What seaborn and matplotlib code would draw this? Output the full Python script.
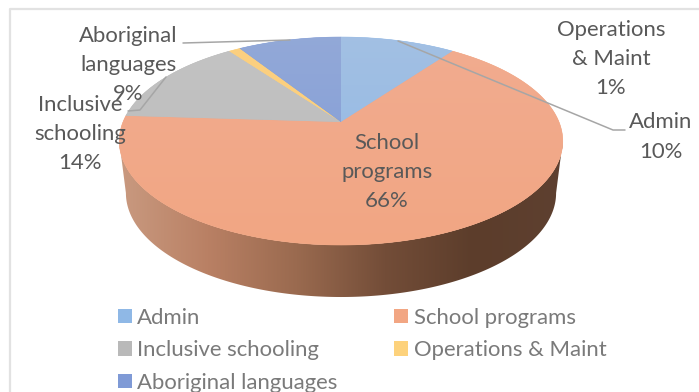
import numpy as np
import matplotlib
matplotlib.use("Agg")
import matplotlib.pyplot as plt
from matplotlib.colors import LinearSegmentedColormap
from matplotlib.patches import Polygon, Patch
import seaborn as sns

categories = ["Admin", "School programs", "Inclusive schooling", "Operations & Maint", "Aboriginal languages"]
shares = [10, 66, 14, 1, 9]
top_colors = ["#a3c0e3", "#f1ac90", "#c4c4c4", "#fbcf80", "#93a9d8"]
bottom_colors = ["#8fb8e6", "#f2a683", "#b9b9b9", "#fdd27c", "#7f9ad6"]
data_labels = ["Admin\n10%", "School\nprograms\n66%", "Inclusive\nschooling\n14%",
               "Operations\n& Maint\n1%", "Aboriginal\nlanguages\n9%"]
label_xy = [(661, 137), (387, 172), (80, 134), (611, 59), (128, 65)]
wall_colors = ["#c99a80", "#b98064", "#9a6a4f", "#734d38", "#5c3d2b", "#5e4030"]

sns.set_theme(style="white")
plt.rcParams["font.family"] = ["Lato", "DejaVu Sans"]
TEXT = "#595959"
SIZE = 15.9

# Pie geometry in pixels, with a perspective tilt around the apex
APEX_X, APEX_Y = 341, 122
A, B, K = 218, 100.5, 0.183
DEPTH = 52


def project(frac):
    """Map a clockwise fraction of the circle onto the tilted top face."""
    t = 2 * np.pi * np.asarray(frac)
    w = 1 + K * np.cos(t)
    return APEX_X + A * np.sin(t) / w, APEX_Y - B * np.cos(t) / w


fig = plt.figure(figsize=(6.99, 3.92), dpi=100, facecolor="white")
ax = fig.add_axes([0, 0, 1, 1])
ax.axis("off")

# Chart frame: only the top and left edges are visible
ax.plot([10, 10, 699], [392, 9, 9], color="#e2e2e2", lw=1.6, solid_capstyle="butt")

# Side wall: a horizontal gradient clipped to the front of the rim,
# running between the widest points of the tilted face
widest = np.arccos(-K) / (2 * np.pi)
fr = np.linspace(widest, 1 - widest, 241)
ex, ey = project(fr)
bx = APEX_X + (ex - APEX_X) * 0.97
by = ey + DEPTH
wall = Polygon(np.column_stack([np.r_[ex, bx[::-1]], np.r_[ey, by[::-1]]]),
               closed=True, fc="none", ec="none", zorder=2)
ax.add_patch(wall)
wall_cmap = LinearSegmentedColormap.from_list("wall", sns.blend_palette(wall_colors, 256))
wall_img = ax.imshow(np.linspace(0, 1, 256)[None, :], cmap=wall_cmap, extent=(119, 563, 300, 130),
                     aspect="auto", zorder=2, vmin=0, vmax=1)
wall_img.set_clip_path(wall)

# Top face wedges with a soft vertical shading
edges = np.cumsum([0] + shares) / sum(shares)
gy = np.linspace(0, 1, 256)[:, None]
extent = (110, 570, 250, 30)
for lo, hi, c1, c2 in zip(edges[:-1], edges[1:], top_colors, bottom_colors):
    arc = np.linspace(lo, hi, max(int((hi - lo) * 360), 4))
    x, y = project(arc)
    verts = np.column_stack([np.r_[APEX_X, x], np.r_[APEX_Y, y]])
    poly = Polygon(verts, closed=True, fc=c2, ec=c2, lw=0.4, zorder=3)
    ax.add_patch(poly)
    cmap = LinearSegmentedColormap.from_list("shade", [c1, c2])
    im = ax.imshow(gy, cmap=cmap, extent=extent, aspect="auto", zorder=3.1, vmin=0, vmax=1)
    im.set_clip_path(poly)
ax.set_xlim(0, 699)
ax.set_ylim(392, 0)

# Leader lines
leader = "#a6a6a6"
ax.plot([398, 613, 625], [41, 130, 130], color=leader, lw=1.1, zorder=4)
ax.plot([183, 290], [43, 40], color=leader, lw=1.1, zorder=4)
ax.plot([166, 140, 128], [77, 110, 111], color=leader, lw=1.1, zorder=4)

for text, (lx, ly) in zip(data_labels, label_xy):
    ax.text(lx, ly, text, ha="center", va="center", color=TEXT, fontsize=SIZE,
            linespacing=1.58, zorder=5)

# Legend filled row by row, so reorder for matplotlib's column filling
handles = [Patch(fc=c, ec="none", label=n) for c, n in zip(bottom_colors, categories)]
order = [0, 2, 4, 1, 3]
ax.legend([handles[i] for i in order], [categories[i] for i in order], ncol=2,
          loc="upper left", bbox_to_anchor=(118 / 699, 1 - 308 / 392), borderaxespad=0, borderpad=0,
          frameon=False, fontsize=SIZE, labelcolor="#7a7a7a",
          handlelength=0.63, handleheight=0.63, handletextpad=0.25,
          columnspacing=2.55, labelspacing=0.56)

fig.savefig("out.png", dpi=100)
